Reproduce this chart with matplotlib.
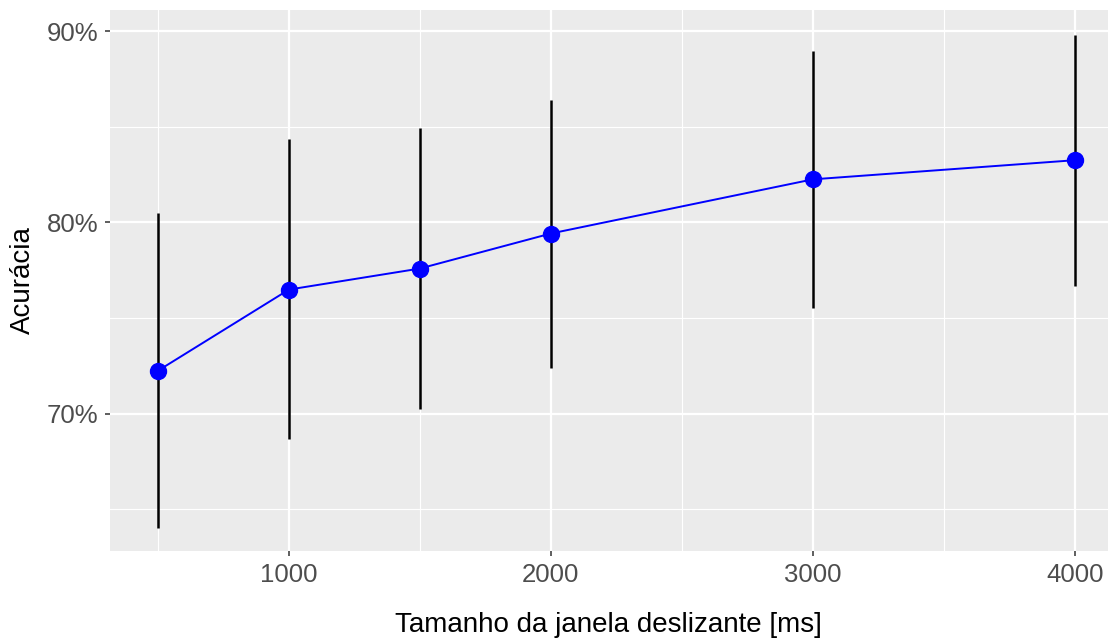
import numpy as np
import matplotlib.pyplot as plt
from matplotlib.ticker import FixedLocator, PercentFormatter

# Valores
janela = [500, 1000, 1500, 2000, 3000, 4000]
acuracia = [72.25, 76.49, 77.59, 79.42, 82.25, 83.25]
sup = [80.47, 84.35, 84.92, 86.39, 88.95, 89.79]
inf = [64.03, 68.69, 70.26, 72.41, 75.55, 76.70]

plt.rcParams['font.family'] = ['Liberation Sans', 'DejaVu Sans']

fig = plt.figure(figsize=(11.1, 6.39), dpi=100)
ax = fig.add_axes([0.0991, 0.1377, 0.8989, 0.8467])
ax.set_facecolor('#EBEBEB')
for s in ax.spines.values():
    s.set_visible(False)

ax.set_xlim(317, 4126)
ax.set_ylim(62.83, 91.1)

ax.xaxis.set_major_locator(FixedLocator([1000, 2000, 3000, 4000]))
ax.xaxis.set_minor_locator(FixedLocator([500, 1500, 2500, 3500]))
ax.yaxis.set_major_locator(FixedLocator([70, 80, 90]))
ax.yaxis.set_minor_locator(FixedLocator([65, 75, 85]))
ax.yaxis.set_major_formatter(PercentFormatter(decimals=0))

ax.grid(which='major', color='white', linewidth=1.6)
ax.grid(which='minor', color='white', linewidth=0.8)
ax.set_axisbelow(True)

ax.tick_params(which='major', length=3.5, width=1.1, color='#333333',
               labelcolor='#4D4D4D', labelsize=18.5, pad=5)
ax.tick_params(which='minor', length=0)

y = np.array(acuracia)
ax.errorbar(janela, y, yerr=[y - np.array(inf), np.array(sup) - y],
            fmt='none', ecolor='black', elinewidth=1.8, capsize=0, zorder=2)
ax.plot(janela, acuracia, color='blue', linewidth=1.4, zorder=3)
ax.plot(janela, acuracia, 'o', color='blue', markersize=11.5, zorder=4)

ax.set_xlabel('Tamanho da janela deslizante [ms]', fontsize=20, labelpad=18)
ax.set_ylabel('Acurácia', fontsize=20, labelpad=8)

fig.savefig('out.png', dpi=100)
